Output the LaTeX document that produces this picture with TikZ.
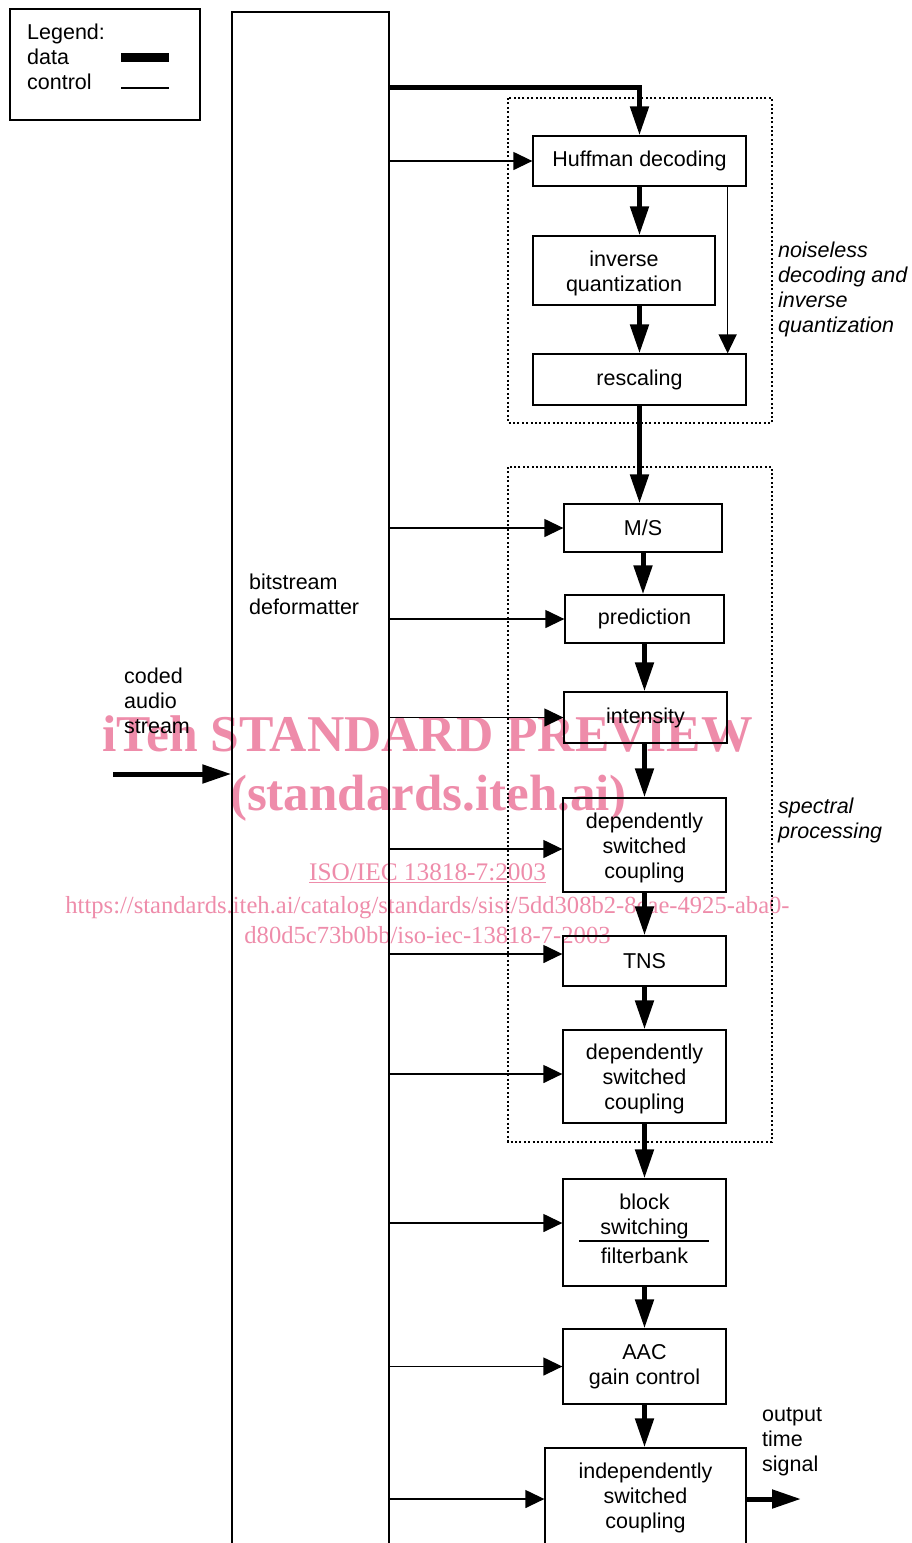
\documentclass[tikz,border=0pt]{standalone}
\usepackage{fontspec}
\setmainfont{Liberation Sans}
\newfontfamily\wmfont{Liberation Serif}
\usetikzlibrary{arrows.meta,calc}
\definecolor{wmpink}{RGB}{238,140,170}
\newcommand\mainfs{\fontsize{21.5}{25}\selectfont}
\tikzset{
 box/.style={draw, line width=1.3pt, inner sep=0pt, align=center, font=\mainfs},
 data/.style={line width=5pt, -{Triangle[length=29pt,width=18pt]}},
 ctrl/.style={line width=1.3pt, -{Triangle[length=19pt,width=18pt]}},
 grp/.style={line width=2pt, dash pattern=on 2pt off 2.4pt},
 lbl/.style={anchor=west, align=left, inner sep=0pt, font=\mainfs},
 ilbl/.style={lbl, font=\mainfs\itshape},
 wm/.style={text=wmpink, inner sep=0pt, anchor=base},
}
\begin{document}
\begin{tikzpicture}[x=1pt,y=-1pt]
\useasboundingbox (0,0) rectangle (912,1543);
% legend
\node[draw, line width=1.3pt, minimum width=190pt, minimum height=111pt, inner sep=0pt] (legend) at (105,64.5) {};
\node[lbl] (legtxt) at (27,56.5) {Legend:\\data\\control};
\draw[line width=9pt] (121,57) -- (169,57);
\draw[line width=1.3pt] (121,88) -- (169,88);
% groups
\draw[grp] (508,98) rectangle (772,423);
\draw[grp] (508,467) rectangle (772,1142);
\node[ilbl] (g1) at (778,289.5) {noiseless\\decoding and\\inverse\\quantization};
\node[ilbl] (g2) at (778,820.5) {spectral\\processing};
% bitstream deformatter
\node[draw, line width=1.3pt, minimum width=157pt, minimum height=1560pt, inner sep=0pt] (bsd) at (310.5,792) {};
\node[lbl] (bsdl) at (249,594.5) {bitstream\\deformatter};
\node[lbl] (inl) at (124,701) {coded\\audio\\stream};
\coordinate (in) at (113,774);
\draw[data] (in) -- (bsd.west |- in);
% blocks
\node[box, minimum width=213pt, minimum height=50pt] (huff) at (639.5,161) {Huffman decoding};
\node[box, minimum width=182pt, minimum height=69pt] (iq) at (624,270.5) {\rule{0pt}{21.7pt}inverse\\quantization};
\node[box, minimum width=213pt, minimum height=51pt] (resc) at (639.5,379.5) {rescaling};
\node[box, minimum width=158pt, minimum height=48pt] (ms) at (643,528) {M/S};
\node[box, minimum width=159pt, minimum height=48pt] (pred) at (644.5,619) {prediction};
\node[box, minimum width=163pt, minimum height=51pt] (inten) at (645.5,717.5) {intensity};
\node[box, minimum width=163pt, minimum height=94pt] (dsc1) at (644.5,845) {\rule{0pt}{21.7pt}dependently\\switched\\coupling};
\node[box, minimum width=163pt, minimum height=50pt] (tns) at (644.5,961) {TNS};
\node[box, minimum width=163pt, minimum height=93pt] (dsc2) at (644.5,1076.5) {\rule{0pt}{19.7pt}dependently\\switched\\coupling};
\node[box, minimum width=163pt, minimum height=107pt] (block) at (644.5,1232.5) {block\\switching\\[4pt]filterbank\rule[-8pt]{0pt}{8pt}};
\draw[line width=1.3pt] (579,1241) -- (709,1241);
\node[box, minimum width=163pt, minimum height=75pt] (aac) at (644.5,1366.5) {AAC\\gain control};
\node[box, minimum width=201pt, minimum height=98pt] (indep) at (645.5,1497) {\rule{0pt}{17.7pt}independently\\switched\\coupling};
\node[lbl] (outl) at (762,1442) {output\\time\\signal};
\coordinate (out) at (801,1499);
% data connectors
\coordinate (d0) at (639.5,87);
\draw[data] (bsd.east |- d0) -- (d0) -- (huff.north);
\draw[data] (huff.south) -- (huff.south |- iq.north);
\draw[data] (iq.south -| huff.south) -- (huff.south |- resc.north);
\draw[data] (resc.south) -- (resc.south |- ms.north);
\draw[data] (ms.south) -- (ms.south |- pred.north);
\draw[data] (pred.south) -- (pred.south |- inten.north);
\draw[data] (dsc1.north |- inten.south) -- (dsc1.north);
\draw[data] (dsc1.south) -- (tns.north);
\draw[data] (tns.south) -- (dsc2.north);
\draw[data] (dsc2.south) -- (block.north);
\draw[data] (block.south) -- (aac.north);
\draw[data] (aac.south) -- (aac.south |- indep.north);
\draw[data] (indep.east |- out) -- (out);
% control connectors
\coordinate (hc) at ([xshift=-19pt]huff.south east);
\draw[ctrl] (hc) -- (hc |- resc.north);
\draw[ctrl] (bsd.east |- huff.west) -- (huff.west);
\draw[ctrl] (bsd.east |- ms.west) -- (ms.west);
\draw[ctrl] (bsd.east |- pred.west) -- (pred.west);
\draw[ctrl] (bsd.east |- inten.west) -- (inten.west);
\coordinate (c1) at ([yshift=-4pt]dsc1.west);
\draw[ctrl] (bsd.east |- c1) -- (c1);
\coordinate (c2) at ([yshift=7pt]tns.west);
\draw[ctrl] (bsd.east |- c2) -- (c2);
\coordinate (c3) at ([yshift=2.5pt]dsc2.west);
\draw[ctrl] (bsd.east |- c3) -- (c3);
\coordinate (c4) at ([yshift=9.5pt]block.west);
\draw[ctrl] (bsd.east |- c4) -- (c4);
\draw[ctrl] (bsd.east |- aac.west) -- (aac.west);
\draw[ctrl] (bsd.east |- out) -- (indep.west |- out);
% watermark
\begin{scope}[blend mode=multiply]
\node[wm, font=\wmfont\bfseries\fontsize{51.6}{55}\selectfont] (wm1) at (427.5,751) {iTeh STANDARD PREVIEW};
\node[wm, font=\wmfont\bfseries\fontsize{51}{55}\selectfont] (wm2) at (428.5,810) {(standards.iteh.ai)};
\node[wm, font=\wmfont\fontsize{25.3}{28}\selectfont] (wm3) at (427.5,880) {\underline{ISO/IEC 13818-7:2003}};
\node[wm, font=\wmfont\fontsize{24.6}{28}\selectfont] (wm4) at (427.5,913) {https://standards.iteh.ai/catalog/standards/sist/5dd308b2-8cae-4925-aba0-};
\node[wm, font=\wmfont\fontsize{24.6}{28}\selectfont] (wm5) at (427.5,943) {d80d5c73b0bb/iso-iec-13818-7-2003};
\end{scope}
\end{tikzpicture}
\end{document}
